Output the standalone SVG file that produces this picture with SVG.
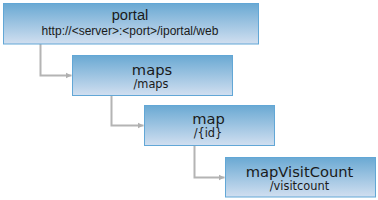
<svg xmlns="http://www.w3.org/2000/svg" width="378" height="200" viewBox="0 0 378 200">
<defs>
<linearGradient id="g" x1="0" y1="0" x2="0" y2="1">
<stop offset="0" stop-color="#6aa9d3"/>
<stop offset="1" stop-color="#d1dff0"/>
</linearGradient>
<marker id="arr" markerWidth="7" markerHeight="7" refX="6" refY="3.5" orient="auto" markerUnits="userSpaceOnUse">
<path d="M0,0.5 L6,3.5 L0,6.5 Z" fill="#b0b0b0"/>
</marker>
<style>
.box{fill:url(#g);stroke:#62a7d6;stroke-width:1}
.t{font-family:"DejaVu Sans",Verdana,sans-serif;font-size:14.7px;fill:#1a1a1a;text-anchor:middle}
.s{font-family:"DejaVu Sans",Verdana,sans-serif;font-size:11.4px;fill:#1a1a1a;text-anchor:middle}
.a{font-family:"Liberation Sans",Arial,sans-serif;fill:#1a1a1a;text-anchor:middle}
.c{fill:none;stroke:#b4b4b4;stroke-width:2;marker-end:url(#arr)}
</style>
</defs>
<g id="connectors">
<path class="c" d="M40.5,44 V75.5 H71.5"/>
<path class="c" d="M111.5,96 V125.5 H143.5"/>
<path class="c" d="M194.5,146 V177.5 H224.5"/>
</g>
<g id="portal">
<rect class="box" x="3.5" y="3.5" width="255" height="40.5"/>
<text class="a" x="130" y="20" font-size="14.7">portal</text>
<text class="a" x="130" y="35" font-size="12">http://&lt;server&gt;:&lt;port&gt;/iportal/web</text>
</g>
<g id="maps">
<rect class="box" x="72.5" y="55.5" width="160" height="40"/>
<text class="t" x="152" y="75">maps</text>
<text class="s" x="151" y="88.3">/maps</text>
</g>
<g id="map">
<rect class="box" x="144.5" y="105.5" width="130" height="40"/>
<text class="t" x="208.5" y="124">map</text>
<text class="s" x="208" y="137.3">/{id}</text>
</g>
<g id="mapVisitCount">
<rect class="box" x="225.5" y="157.5" width="150" height="39.5"/>
<text class="t" x="299.5" y="176.7">mapVisitCount</text>
<text class="s" x="299.5" y="190">/visitcount</text>
</g>
</svg>
